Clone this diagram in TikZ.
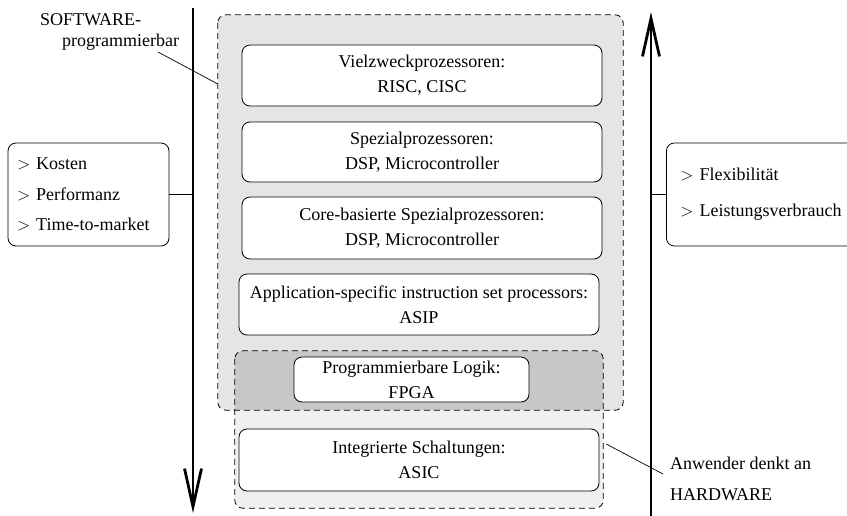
\documentclass[tikz,border=0pt]{standalone}
\usepackage{fontspec}
\setmainfont{Liberation Serif}
\usetikzlibrary{arrows.meta,calc}
\begin{document}
\begin{tikzpicture}[x=1pt,y=-1pt,
  txt/.style={font=\fontsize{18}{25}\selectfont},
  lbl/.style={txt, inner sep=0pt, align=left},
  proc/.style={txt, draw, rounded corners=8pt, fill=white, line width=0.8pt, align=center, inner sep=0pt, minimum width=360pt},
  regfill/.style={rounded corners=8pt, inner sep=0pt},
  region/.style={draw, dash pattern=on 6pt off 4pt, line width=0.8pt, rounded corners=8pt},
  side/.style={draw, rounded corners=8pt, line width=0.8pt, fill=white, align=left, inner ysep=0pt, minimum height=103pt},
  axis/.style={line width=2.8pt, -{Straight Barb[length=38pt,width=17pt]}},
  conn/.style={line width=0.7pt}]
\useasboundingbox (0,0) rectangle (847,515);
\clip (0,0) rectangle (847,515);

% regions
\node[regfill, fill=gray!20, minimum width=405pt, minimum height=395pt] (sw) at (420.5,212.5) {};
\node[regfill, fill=black!6, minimum width=368pt, minimum height=157pt] (hw) at (419,429.5) {};
\begin{scope}
  \clip[rounded corners=8pt] (sw.north west) rectangle (sw.south east);
  \fill[black!22, rounded corners=8pt] (hw.north west) rectangle (hw.south east);
\end{scope}
\draw[region] (sw.north west) rectangle (sw.south east);
\draw[region] (hw.north west) rectangle (hw.south east);

% processor boxes
\node[proc, minimum height=61pt] (b1) at (422,75.5) {Vielzweckprozessoren:\\RISC, CISC};
\node[proc, minimum height=60pt] (b2) at (422,152) {Spezialprozessoren:\\DSP, Microcontroller};
\node[proc, minimum height=62pt] (b3) at (422,228) {Core-basierte Spezialprozessoren:\\DSP, Microcontroller};
\node[proc, minimum height=61pt] (b4) at (419,304.5) {Application-specific instruction set processors:\\ASIP};
\node[proc, minimum height=45pt, minimum width=235pt] (b5) at (411.5,379.5) {Programmierbare Logik:\\FPGA};
\node[proc, minimum height=62pt] (b6) at (419,460) {Integrierte Schaltungen:\\ASIC};

% axes
\coordinate (ltop) at (193,8);
\coordinate (lbot) at (193,513);
\coordinate (rbot) at (651,516);
\coordinate (rtop) at (651,12);
\draw[axis] (ltop) -- (lbot);
\draw[axis] (rbot) -- (rtop);

% side boxes
\node[side, font=\fontsize{18}{30.5}\selectfont, inner xsep=9pt, text width=143pt] (lb) at (88.5,194.5)
  {$>$ Kosten\\$>$ Performanz\\$>$ Time-to-market};
\node[side, font=\fontsize{18}{36}\selectfont, inner xsep=14pt, text width=175pt, anchor=west] (rb) at (666,194.5)
  {$>$ Flexibilität\\$>$ Leistungsverbrauch};
\draw[conn] (lb.east) -- (lb.east -| ltop);
\draw[conn] (rb.west) -- (rb.west -| rtop);

% labels
\node[lbl, font=\fontsize{18}{21.5}\selectfont, anchor=north west] (swl) at (40,13) {SOFTWARE-\\\hspace*{22pt}programmierbar};
\coordinate (swp) at (158,52);
\draw[conn] (swp) -- ($(sw.north west)!0.175!(sw.south west)$);

\node[lbl, font=\fontsize{18}{31}\selectfont, anchor=north west] (hwl) at (670,457) {Anwender denkt an\\HARDWARE};
\coordinate (hwp) at (663,474);
\draw[conn] ($(hw.east)+(3,14.5)$) -- (hwp);
\end{tikzpicture}
\end{document}
